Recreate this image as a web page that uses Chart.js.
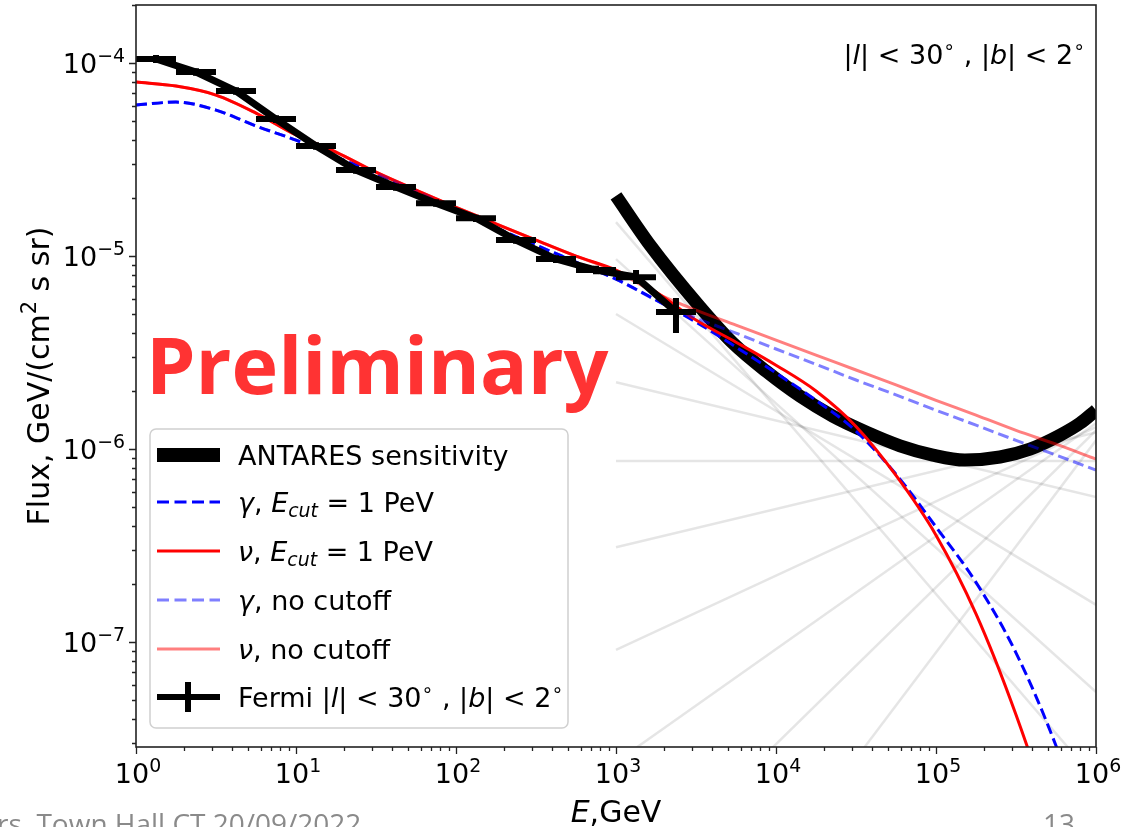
<!DOCTYPE html>
<html>
<head>
<meta charset="utf-8">
<script src="https://cdn.jsdelivr.net/npm/chart.js@4"></script>
<style>
html, body { margin: 0; padding: 0; background: #fff; }
#wrap { position: relative; width: 1142px; height: 827px; overflow: hidden; }
</style>
</head>
<body>
<div id="wrap"><canvas id="fluxChart" width="1142" height="827"></canvas></div>
<script>
/* ====== data ===== */
// model grid, E in GeV (quarter decades)
const modelE = [1, 1.778, 3.162, 5.623, 10, 17.78, 31.62, 56.23, 100, 177.8, 316.2, 562.3,
  1000, 1778, 3162, 5623, 1e4, 17783, 31623, 56234, 1e5, 177828, 316228, 562341, 1e6];

const gammaCut = [6.06e-5, 6.28e-5, 5.71e-5, 4.72e-5, 3.99e-5, 3.26e-5, 2.69e-5, 2.17e-5, 1.75e-5, 1.40e-5, 1.14e-5, 9.31e-6,
  7.60e-6, 5.92e-6, 4.55e-6, 3.38e-6, 2.48e-6, 1.79e-6, 1.24e-6, 7.4e-7, 3.95e-7, 2.04e-7, 8.8e-8, 2.9e-8, 7.2e-9];
const nuCut = [7.97e-5, 7.60e-5, 6.83e-5, 5.51e-5, 4.24e-5, 3.46e-5, 2.72e-5, 2.20e-5, 1.79e-5, 1.47e-5, 1.21e-5, 1.0e-5,
  8.46e-6, 6.51e-6, 4.66e-6, 3.58e-6, 2.72e-6, 2.00e-6, 1.31e-6, 7.3e-7, 3.58e-7, 1.40e-7, 4.2e-8, 1.0e-8, 1.8e-9];
const gammaNoCut = [6.06e-5, 6.28e-5, 5.71e-5, 4.72e-5, 3.99e-5, 3.26e-5, 2.69e-5, 2.17e-5, 1.75e-5, 1.40e-5, 1.14e-5, 9.31e-6,
  7.60e-6, 5.92e-6, 4.78e-6, 3.99e-6, 3.30e-6, 2.75e-6, 2.28e-6, 1.91e-6, 1.59e-6, 1.33e-6, 1.11e-6, 9.31e-7, 7.78e-7];
const nuNoCut = [7.97e-5, 7.60e-5, 6.83e-5, 5.51e-5, 4.24e-5, 3.46e-5, 2.72e-5, 2.20e-5, 1.79e-5, 1.47e-5, 1.21e-5, 1.0e-5,
  8.36e-6, 6.43e-6, 5.25e-6, 4.39e-6, 3.67e-6, 3.07e-6, 2.57e-6, 2.15e-6, 1.79e-6, 1.50e-6, 1.25e-6, 1.06e-6, 8.88e-7];

// ANTARES sensitivity
const antaresE = [1000, 1632, 3350, 5383, 8790, 14125, 22700, 37050, 59570, 95500, 151400, 251200, 386800, 595700, 794300, 1e6];
const antaresF = [2.05e-5, 1.14e-5, 5.45e-6, 3.54e-6, 2.51e-6, 1.88e-6, 1.48e-6, 1.22e-6, 1.04e-6, 9.31e-7, 8.77e-7, 9.1e-7, 1.0e-6, 1.18e-6, 1.36e-6, 1.59e-6];

// Fermi |l|<30, |b|<2 bins
const fermiE    = [1.334, 2.371, 4.217, 7.499, 13.34, 23.71, 42.17, 74.99, 133.4, 237.1, 421.7, 749.9, 1334, 2371];
const fermiElo  = [1, 1.778, 3.162, 5.623, 10, 17.78, 31.62, 56.23, 100, 177.8, 316.2, 562.3, 1000, 1778];
const fermiEhi  = [1.778, 3.162, 5.623, 10, 17.78, 31.62, 56.23, 100, 177.8, 316.2, 562.3, 1000, 1778, 3162];
const fermiF    = [1.05e-4, 8.98e-5, 7.16e-5, 5.13e-5, 3.72e-5, 2.79e-5, 2.28e-5, 1.88e-5, 1.57e-5, 1.21e-5, 9.65e-6, 8.46e-6, 7.78e-6, 5.13e-6];
const fermiFlo  = [1.0e-4, 8.6e-5, 6.85e-5, 4.9e-5, 3.56e-5, 2.67e-5, 2.18e-5, 1.8e-5, 1.5e-5, 1.16e-5, 9.2e-6, 8.05e-6, 7.16e-6, 3.99e-6];
const fermiFhi  = [1.1e-4, 9.4e-5, 7.5e-5, 5.37e-5, 3.89e-5, 2.92e-5, 2.38e-5, 1.97e-5, 1.64e-5, 1.27e-5, 1.01e-5, 8.9e-6, 8.46e-6, 6.06e-6];

// faint power-law sensitivity lines, flux at 1 TeV and at 1 PeV
const fanStart = [1.50e-5, 9.65e-6, 5.01e-6, 2.22e-6, 8.67e-7, 3.10e-7, 9.1e-8, 2.39e-8, 4.55e-9, 5.6e-10];
const fanEnd   = [1.93e-8, 5.51e-8, 1.56e-7, 5.64e-7, 8.67e-7, 1.22e-6, 1.30e-6, 1.36e-6, 1.25e-6, 1.11e-6];

const xTickExp = [0, 1, 2, 3, 4, 5, 6];
const yTickExp = [-7, -6, -5, -4];

/* ====== helpers ===== */
const FONT = '"DejaVu Sans"';
const pts = (xs, ys) => xs.map((x, i) => ({x: x, y: ys[i]}));

// parts: [text, style]  style: '' normal, 'i' italic, 'sup', 'isub'
function partFont(style, size) {
  const small = style === 'sup' || style === 'isub';
  const s = small ? size * 0.7 : size;
  const it = (style === 'i' || style === 'isub') ? 'oblique ' : '';
  return it + s + 'px ' + FONT;
}
function richWidth(ctx, parts, size) {
  let w = 0;
  parts.forEach(p => { ctx.font = partFont(p[1], size); w += ctx.measureText(p[0]).width; });
  return w;
}
function drawRich(ctx, parts, x, y, size, align) {
  const w = richWidth(ctx, parts, size);
  let cx = align === 'center' ? x - w / 2 : align === 'right' ? x - w : x;
  ctx.textAlign = 'left';
  ctx.textBaseline = 'alphabetic';
  parts.forEach(p => {
    ctx.font = partFont(p[1], size);
    let dy = 0;
    if (p[1] === 'sup') dy = -0.42 * size;
    if (p[1] === 'isub') dy = 0.2 * size;
    ctx.fillText(p[0], cx, y + dy);
    cx += ctx.measureText(p[0]).width;
  });
}
const expText = n => (n < 0 ? '\u2212' + (-n) : String(n));
const regionText = [['|', ''], ['l', 'i'], ['| < 30', ''], ['\u2218', 'sup'], [' , |', ''], ['b', 'i'], ['| < 2', ''], ['\u2218', 'sup']];

/* ====== plugins ===== */
const errorBars = {
  id: 'errorBars',
  afterDatasetsDraw(chart) {
    const {ctx, chartArea: a, scales: {x, y}} = chart;
    ctx.save();
    ctx.beginPath();
    ctx.rect(a.left, a.top, a.right - a.left, a.bottom - a.top);
    ctx.clip();
    ctx.strokeStyle = '#000';
    ctx.lineWidth = 6;
    fermiE.forEach((e, i) => {
      const px = x.getPixelForValue(e), py = y.getPixelForValue(fermiF[i]);
      ctx.beginPath();
      ctx.moveTo(x.getPixelForValue(fermiElo[i]), py);
      ctx.lineTo(x.getPixelForValue(fermiEhi[i]), py);
      ctx.moveTo(px, y.getPixelForValue(fermiFlo[i]));
      ctx.lineTo(px, y.getPixelForValue(fermiFhi[i]));
      ctx.stroke();
    });
    ctx.restore();
  }
};

const decor = {
  id: 'decor',
  beforeDraw(chart) {
    const ctx = chart.ctx;
    ctx.save();
    ctx.fillStyle = '#fff';
    ctx.fillRect(0, 0, chart.width, chart.height);
    ctx.restore();
  },
  afterDraw(chart) {
    const {ctx, chartArea: a, scales: {x, y}} = chart;
    ctx.save();
    ctx.fillStyle = '#000';
    ctx.strokeStyle = '#222';
    // frame
    ctx.lineWidth = 1.6;
    ctx.strokeRect(a.left, a.top, a.right - a.left, a.bottom - a.top);
    // ticks
    ctx.lineWidth = 1.3;
    ctx.beginPath();
    for (let d = 0; d <= 6; d++) {
      for (let m = 1; m <= 9; m++) {
        const v = m * Math.pow(10, d);
        if (v > 1e6) break;
        const px = Math.round(x.getPixelForValue(v)) + 0.5;
        ctx.moveTo(px, a.bottom);
        ctx.lineTo(px, a.bottom + (m === 1 ? 7 : 4));
      }
    }
    for (let d = -8; d <= -4; d++) {
      for (let m = 1; m <= 9; m++) {
        const v = m * Math.pow(10, d);
        if (v < y.min || v > y.max) continue;
        const py = Math.round(y.getPixelForValue(v)) + 0.5;
        ctx.moveTo(a.left, py);
        ctx.lineTo(a.left - (m === 1 ? 7 : 4), py);
      }
    }
    ctx.stroke();
    // tick labels
    xTickExp.forEach(n => {
      drawRich(ctx, [['10', ''], [expText(n), 'sup']], x.getPixelForValue(Math.pow(10, n)) + 2, 783, 27, 'center');
    });
    yTickExp.forEach(n => {
      drawRich(ctx, [['10', ''], [expText(n), 'sup']], a.left - 11, y.getPixelForValue(Math.pow(10, n)) + 10, 27, 'right');
    });
    // axis titles
    drawRich(ctx, [['E', 'i'], [',GeV', '']], (a.left + a.right) / 2, 822, 30, 'center');
    ctx.save();
    ctx.translate(49, (a.top + a.bottom) / 2);
    ctx.rotate(-Math.PI / 2);
    drawRich(ctx, [['Flux, GeV/(cm', ''], ['2', 'sup'], [' s sr)', '']], 0, 0, 30, 'center');
    ctx.restore();
    // region annotation
    drawRich(ctx, regionText, 1085, 64, 27, 'right');

    // legend
    const L = {x: 150, y: 429, w: 418, h: 299};
    ctx.fillStyle = 'rgba(255,255,255,0.8)';
    ctx.strokeStyle = '#d0d0d0';
    ctx.lineWidth = 1.5;
    ctx.beginPath();
    ctx.roundRect(L.x, L.y, L.w, L.h, 6);
    ctx.fill();
    ctx.stroke();
    const rows = [455, 502, 551, 600, 649, 697];
    const h0 = 157, h1 = 220;
    const handle = (yy, color, width, dash) => {
      ctx.strokeStyle = color;
      ctx.lineWidth = width;
      ctx.setLineDash(dash || []);
      ctx.beginPath();
      ctx.moveTo(h0, yy);
      ctx.lineTo(h1, yy);
      ctx.stroke();
      ctx.setLineDash([]);
    };
    ctx.lineCap = 'butt';
    handle(rows[0], '#000', 14);
    handle(rows[1], '#0000ff', 3, [12, 5.5]);
    handle(rows[2], '#ff0000', 3);
    handle(rows[3], 'rgba(0,0,255,0.5)', 3, [12, 5.5]);
    handle(rows[4], 'rgba(255,0,0,0.5)', 3);
    handle(rows[5], '#000', 6);
    ctx.lineWidth = 6;
    ctx.beginPath();
    ctx.moveTo(188, rows[5] - 15);
    ctx.lineTo(188, rows[5] + 15);
    ctx.stroke();
    ctx.fillStyle = '#000';
    const tx = 238;
    drawRich(ctx, [['ANTARES sensitivity', '']], tx, rows[0] + 10, 27, 'left');
    drawRich(ctx, [['\u03b3', 'i'], [', ', ''], ['E', 'i'], ['cut', 'isub'], [' = 1 PeV', '']], tx, rows[1] + 10, 27, 'left');
    drawRich(ctx, [['\u03bd', 'i'], [', ', ''], ['E', 'i'], ['cut', 'isub'], [' = 1 PeV', '']], tx, rows[2] + 10, 27, 'left');
    drawRich(ctx, [['\u03b3', 'i'], [', no cutoff', '']], tx, rows[3] + 10, 27, 'left');
    drawRich(ctx, [['\u03bd', 'i'], [', no cutoff', '']], tx, rows[4] + 10, 27, 'left');
    drawRich(ctx, [['Fermi ', '']].concat(regionText), tx, rows[5] + 10, 27, 'left');

    // watermark
    ctx.fillStyle = 'rgb(255,51,51)';
    ctx.font = 'bold 79px "Open Sans"';
    ctx.textAlign = 'left';
    ctx.fillText('Preliminary', 146, 394);

    // slide footer
    ctx.fillStyle = '#8a8a8a';
    ctx.font = '28px "Open Sans"';
    ctx.fillText('rs. Town Hall CT 20/09/2022', -3, 834);
    ctx.fillText('13', 1043, 834);
    ctx.restore();
  }
};

/* ====== chart ===== */
const fanSets = fanStart.map((f, i) => ({
  data: [{x: 1000, y: f}, {x: 1e6, y: fanEnd[i]}],
  borderColor: 'rgba(0,0,0,0.1)',
  borderWidth: 2.5,
  pointRadius: 0,
  order: 10
}));

const fluxData = {
  datasets: [
    {label: 'Fermi', data: pts(fermiE, fermiF), borderColor: '#000', borderWidth: 7, pointRadius: 0, order: 0},
    {label: 'nu no cutoff', data: pts(modelE, nuNoCut), borderColor: 'rgba(255,0,0,0.5)', borderWidth: 3,
      pointRadius: 0, cubicInterpolationMode: 'monotone', order: 1},
    {label: 'gamma no cutoff', data: pts(modelE, gammaNoCut), borderColor: 'rgba(0,0,255,0.5)', borderWidth: 3,
      borderDash: [11, 5], pointRadius: 0, cubicInterpolationMode: 'monotone', order: 2},
    {label: 'nu cut', data: pts(modelE, nuCut), borderColor: '#ff0000', borderWidth: 3,
      pointRadius: 0, cubicInterpolationMode: 'monotone', order: 3},
    {label: 'gamma cut', data: pts(modelE, gammaCut), borderColor: '#0000ff', borderWidth: 3,
      borderDash: [11, 5], pointRadius: 0, cubicInterpolationMode: 'monotone', order: 4},
    {label: 'ANTARES sensitivity', data: pts(antaresE, antaresF), borderColor: '#000', borderWidth: 13,
      pointRadius: 0, cubicInterpolationMode: 'monotone', order: 5},
    ...fanSets
  ]
};

const fluxConfig = {
  type: 'line',
  data: fluxData,
  options: {
    responsive: false,
    animation: false,
    devicePixelRatio: 1,
    layout: {padding: {left: 136, top: 5, right: 46, bottom: 80}},
    scales: {
      x: {type: 'logarithmic', min: 1, max: 1e6, display: false},
      y: {type: 'logarithmic', min: 2.86e-8, max: 2.0e-4, display: false}
    },
    plugins: {
      legend: {display: false},
      tooltip: {enabled: false}
    }
  },
  plugins: [decor, errorBars]
};

const fluxChart = new Chart(document.querySelector('#fluxChart'), fluxConfig);
</script>
</body>
</html>
